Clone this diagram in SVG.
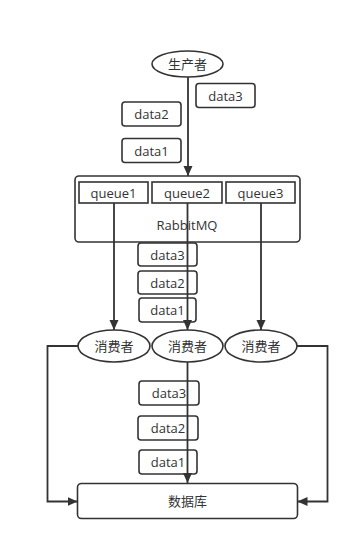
<svg xmlns="http://www.w3.org/2000/svg" width="358" height="551" viewBox="0 0 358 551">
<style>
.box{fill:#fff;stroke:#333;stroke-width:1.6}
.t{font-family:"Open Sans","Noto Sans CJK SC",sans-serif;font-size:13px;fill:#333;text-anchor:middle;dominant-baseline:central}
.c{fill:none;stroke:#333;stroke-width:1.8}
</style>
<defs>
<marker id="ah" markerUnits="userSpaceOnUse" markerWidth="10" markerHeight="10" refX="10" refY="4.5" orient="auto">
<path d="M0,0 L10,4.5 L0,9 z" fill="#333"/>
</marker>
</defs>
<g id="rabbitmq"><rect class="box" x="75" y="176" width="225" height="66" rx="4"/><text class="t" x="187" y="225">RabbitMQ</text></g>
<g id="queue1"><rect class="box" x="79" y="182" width="69" height="21"/><text class="t" x="113.5" y="192.5">queue1</text></g>
<g id="queue2"><rect class="box" x="152" y="182" width="70" height="21"/><text class="t" x="187" y="192.5">queue2</text></g>
<g id="queue3"><rect class="box" x="226" y="182" width="69" height="21"/><text class="t" x="260.5" y="192.5">queue3</text></g>
<g id="producer"><ellipse class="box" cx="187.5" cy="64" rx="35.5" ry="13"/><text class="t" x="187.5" y="64">生产者</text></g>
<g id="consumer1"><ellipse class="box" cx="114" cy="346" rx="36" ry="16"/><text class="t" x="114" y="346">消费者</text></g>
<g id="consumer2"><ellipse class="box" cx="187.5" cy="346" rx="35.5" ry="16"/><text class="t" x="187.5" y="346">消费者</text></g>
<g id="consumer3"><ellipse class="box" cx="261" cy="346" rx="36" ry="16"/><text class="t" x="261" y="346">消费者</text></g>
<g id="database"><rect class="box" x="77.5" y="483.5" width="220" height="35" rx="4"/><text class="t" x="187.5" y="501">数据库</text></g>
<g id="data3-top"><rect class="box" x="196" y="83.5" width="59" height="24" rx="3"/><text class="t" x="225.5" y="95.5">data3</text></g>
<g id="data2-top"><rect class="box" x="122" y="102" width="59" height="24" rx="3"/><text class="t" x="151.5" y="114">data2</text></g>
<g id="data1-top"><rect class="box" x="122" y="138.5" width="59" height="24" rx="3"/><text class="t" x="151.5" y="150.5">data1</text></g>
<g id="data3-mid"><rect class="box" x="138" y="243" width="59" height="23" rx="3"/><text class="t" x="167.5" y="254.5">data3</text></g>
<g id="data2-mid"><rect class="box" x="138" y="271" width="59" height="23" rx="3"/><text class="t" x="167.5" y="282.5">data2</text></g>
<g id="data1-mid"><rect class="box" x="139" y="298" width="57" height="24" rx="3"/><text class="t" x="167.5" y="310">data1</text></g>
<g id="data3-bot"><rect class="box" x="139" y="381" width="60" height="24" rx="3"/><text class="t" x="169" y="393">data3</text></g>
<g id="data2-bot"><rect class="box" x="138" y="416" width="60" height="24" rx="3"/><text class="t" x="168" y="428">data2</text></g>
<g id="data1-bot"><rect class="box" x="139" y="450" width="58" height="24" rx="3"/><text class="t" x="168" y="462">data1</text></g>
<g id="connectors">
<path class="c" d="M188,77 L188,176" marker-end="url(#ah)"/>
<path class="c" d="M114,203 L114,330" marker-end="url(#ah)"/>
<path class="c" d="M187.5,203 L187.5,330" marker-end="url(#ah)"/>
<path class="c" d="M261,203 L261,330" marker-end="url(#ah)"/>
<path class="c" d="M187.5,362 L187.5,483" marker-end="url(#ah)"/>
<path class="c" d="M78,346 L47.5,346 L47.5,501.5 L77.5,501.5" marker-end="url(#ah)"/>
<path class="c" d="M297,346 L327.5,346 L327.5,501.5 L297.5,501.5" marker-end="url(#ah)"/>
</g>
</svg>
